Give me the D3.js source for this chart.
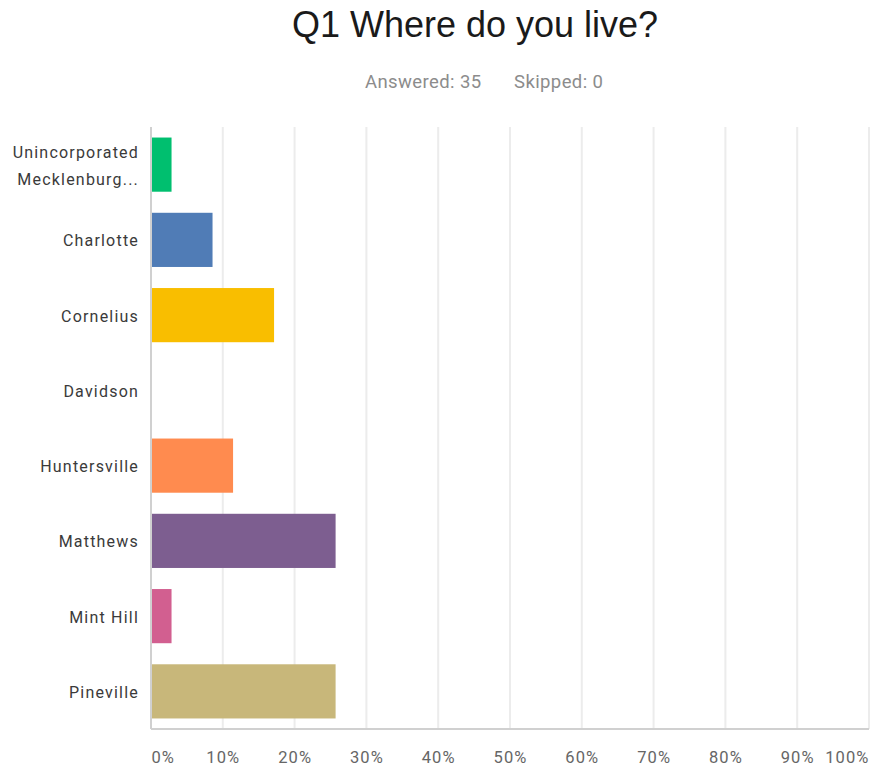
<!DOCTYPE html>
<html><head><meta charset="utf-8">
<script src="https://cdn.jsdelivr.net/npm/d3@7"></script>
<style>body{margin:0;background:#fff}</style>
</head><body>
<svg id="c" width="872" height="769"></svg>
<script>
const categories = ["Unincorporated Mecklenburg...", "Charlotte", "Cornelius", "Davidson", "Huntersville", "Matthews", "Mint Hill", "Pineville"];
const labelLines = [["Unincorporated","Mecklenburg..."],["Charlotte"],["Cornelius"],["Davidson"],["Huntersville"],["Matthews"],["Mint Hill"],["Pineville"]];
const values = [2.86, 8.57, 17.14, 0, 11.43, 25.71, 2.86, 25.71];
const colors = ["#00BF6F","#507CB6","#F9BE00","#6BC8CD","#FF8B4F","#7D5E90","#D25F90","#C8B77A"];
const tickValues = [0,10,20,30,40,50,60,70,80,90,100];
const title = "Q1 Where do you live?";
const subtitle = ["Answered: 35", "Skipped: 0"];

const svg = d3.select("#c");
const m = {l:151, r:869, t:127, b:729};
const x = d3.scaleLinear().domain([0,100]).range([m.l, m.r]);
const y = d3.scaleBand().domain(categories).range([m.t, m.b]).paddingInner(0.28).paddingOuter(0.14);

svg.append("text").attr("x",475).attr("y",37).attr("text-anchor","middle")
  .attr("font-family","Liberation Sans, Arial, sans-serif").attr("font-size",36).attr("fill","#1a1a1a").text(title);
svg.append("text").attr("x",365).attr("y",88).attr("text-anchor","start").attr("letter-spacing",0.4)
  .attr("font-family","Roboto, sans-serif").attr("font-size",18.5).attr("fill","#8c8c8c").text(subtitle[0]);
svg.append("text").attr("x",514).attr("y",88).attr("text-anchor","start").attr("letter-spacing",0.4)
  .attr("font-family","Roboto, sans-serif").attr("font-size",18.5).attr("fill","#8c8c8c").text(subtitle[1]);

// gridlines
svg.append("g").selectAll("line").data(tickValues.slice(1)).join("line")
  .attr("x1",d=>x(d)).attr("x2",d=>x(d)).attr("y1",m.t).attr("y2",m.b)
  .attr("stroke","#ececec").attr("stroke-width",2);

// bars
svg.append("g").selectAll("rect").data(categories).join("rect")
  .attr("x",x(0)).attr("y",d=>y(d)).attr("height",y.bandwidth())
  .attr("width",(d,i)=>x(values[i])-x(0)).attr("fill",(d,i)=>colors[i]);

// axes lines
svg.append("line").attr("x1",m.l).attr("x2",m.l).attr("y1",m.t).attr("y2",m.b).attr("stroke","#d0d0d0").attr("stroke-width",2);
svg.append("line").attr("x1",m.l).attr("x2",m.r).attr("y1",m.b).attr("y2",m.b).attr("stroke","#d0d0d0").attr("stroke-width",2);

// x tick labels
const xa = d3.axisBottom(x).tickValues(tickValues).tickFormat(d=>d+"%").tickSize(0);
const gx = svg.append("g").attr("transform",`translate(0,${m.b})`).call(xa);
gx.select(".domain").remove();
gx.selectAll("text").attr("font-family","Roboto, sans-serif").attr("font-size",16.5).attr("letter-spacing",1.1)
  .attr("fill","#666").attr("dy",null).attr("y",34)
  .attr("text-anchor",d=>d===0?"start":(d===100?"end":"middle"));

// y labels
const gy = svg.append("g");
categories.forEach((c,i)=>{
  const lines = labelLines[i];
  const cy = y(c)+y.bandwidth()/2;
  const t = gy.append("text").attr("x",139).attr("text-anchor","end").attr("letter-spacing",1.2)
    .attr("font-family","Roboto, sans-serif").attr("font-size",16).attr("fill","#3a3a3a");
  lines.forEach((ln,j)=>{
    t.append("tspan").attr("x",139).attr("y",cy + (j-(lines.length-1)/2)*27 + 6.5).text(ln);
  });
});
</script>
</body></html>
